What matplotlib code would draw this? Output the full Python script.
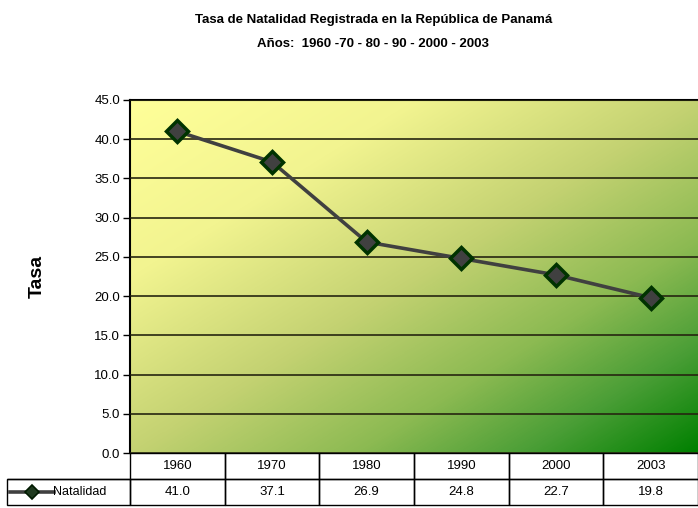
import numpy as np
import matplotlib
matplotlib.use("Agg")
import matplotlib.pyplot as plt
from matplotlib.colors import LinearSegmentedColormap

# data
years = ["1960", "1970", "1980", "1990", "2000", "2003"]
natalidad = [41.0, 37.1, 26.9, 24.8, 22.7, 19.8]
series_name = "Natalidad"
title_lines = ["Tasa de Natalidad Registrada en la República de Panamá",
               "Años:  1960 -70 - 80 - 90 - 2000 - 2003"]
y_ticks = [0, 5, 10, 15, 20, 25, 30, 35, 40, 45]

plt.rcParams["font.family"] = ["Liberation Sans", "DejaVu Sans"]

fig = plt.figure(figsize=(6.98, 5.08), dpi=100)
ax = fig.add_axes([130 / 698, 1 - 453 / 508, 568 / 698, 353 / 508])

# diagonal gradient fill, yellow top-left to green bottom-right
cmap = LinearSegmentedColormap.from_list(
    "bg",
    [(0.0, "#ffff99"), (0.25, "#f2f490"), (0.5, "#c4d272"),
     (0.7, "#8cba52"), (0.85, "#4a9e36"), (1.0, "#008000")])
gx, gy = np.meshgrid(np.linspace(0, 1, 300), np.linspace(0, 1, 300))
grad = (gx + gy) / 2
ax.imshow(grad, cmap=cmap, extent=[-0.5, 5.5, 0, 45], origin="upper",
          aspect="auto", zorder=0, interpolation="bilinear")

x = np.arange(len(years))
ax.plot(x, natalidad, color="#404040", lw=2.6, marker="D", ms=11,
        mfc="#404040", mec="#003300", mew=2.5, zorder=3)

ax.set_xlim(-0.5, 5.5)
ax.set_ylim(0, 45)
ax.set_yticks(y_ticks)
ax.set_yticklabels([f"{v:.1f}" for v in y_ticks], fontsize=9.5)
ax.set_xticks([])
ax.yaxis.grid(True, color="#262610", lw=1.2)
ax.set_axisbelow(False)
for side in ["right", "bottom"]:
    ax.spines[side].set_visible(False)
ax.spines["left"].set_linewidth(1.5)
ax.spines["top"].set_linewidth(1.5)
ax.tick_params(axis="y", length=5, width=1, direction="out", pad=2)
ax.set_ylabel("Tasa", fontsize=14, fontweight="bold", labelpad=35)

# data table under the plot
cell_text = [[""] + years, [""] + [f"{v:.1f}" for v in natalidad]]
col_w = [123] + [568 / 6] * 6
tab = ax.table(cellText=cell_text, colWidths=col_w, cellLoc="center",
               bbox=[-123 / 568, -52 / 353, 691 / 568, 52 / 353])
tab.auto_set_font_size(False)
tab.set_fontsize(9.5)
for (r, c), cell in tab.get_celld().items():
    cell.set_linewidth(1)
    cell.set_edgecolor("black")
    cell.set_facecolor("none")
tab[0, 0].visible_edges = "B"

# legend key in the row label cell
ax.plot([-120 / 568, -76 / 568], [-39 / 353, -39 / 353], transform=ax.transAxes,
        color="#404040", lw=2.6, clip_on=False)
ax.plot([-98 / 568], [-39 / 353], transform=ax.transAxes, marker="D", ms=7,
        mfc="#1f3a1f", mec="#001a00", mew=1.2, clip_on=False)
ax.text(-77 / 568, -39 / 353, series_name, transform=ax.transAxes,
        fontsize=9, va="center", ha="left")

for i, line in enumerate(title_lines):
    fig.text(0.535, 1 - (20 + 24 * i) / 508, line, ha="center", va="center",
             fontsize=9.5, fontweight="bold")

fig.savefig("out.png", dpi=100)
